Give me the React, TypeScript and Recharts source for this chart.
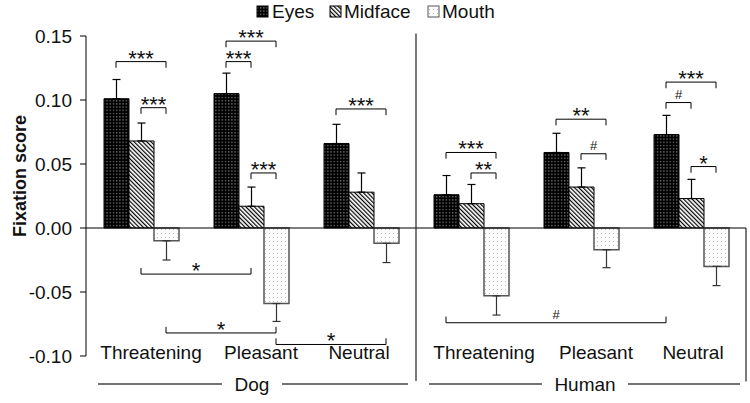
import React from 'react';
import { BarChart, Bar, XAxis, YAxis, ErrorBar, ReferenceLine } from 'recharts';

// ---------- data ----------
const categories = ['Threatening', 'Pleasant', 'Neutral', 'Threatening', 'Pleasant', 'Neutral'];
const groupNames = ['Dog', 'Human'];
const seriesNames = ['Eyes', 'Midface', 'Mouth'];
const eyes = [0.101, 0.105, 0.066, 0.026, 0.059, 0.073];
const eyesErr = [0.015, 0.016, 0.015, 0.015, 0.015, 0.015];
const midface = [0.068, 0.017, 0.028, 0.019, 0.032, 0.023];
const midfaceErr = [0.014, 0.015, 0.015, 0.015, 0.015, 0.015];
const mouth = [-0.010, -0.059, -0.012, -0.053, -0.017, -0.030];
const mouthErr = [0.015, 0.014, 0.015, 0.015, 0.014, 0.015];
const yTicks = [-0.1, -0.05, 0, 0.05, 0.1, 0.15];

// significance brackets: endpoints as [category index, series index], height in data units
const brackets = [
  { from: [0, 0], to: [0, 2], y: 0.130, label: '***' },
  { from: [0, 1], to: [0, 2], y: 0.094, label: '***' },
  { from: [1, 0], to: [1, 2], y: 0.146, label: '***' },
  { from: [1, 0], to: [1, 1], y: 0.130, label: '***' },
  { from: [1, 1], to: [1, 2], y: 0.043, label: '***' },
  { from: [2, 0], to: [2, 2], y: 0.093, label: '***' },
  { from: [3, 0], to: [3, 2], y: 0.059, label: '***' },
  { from: [3, 1], to: [3, 2], y: 0.043, label: '**' },
  { from: [4, 0], to: [4, 2], y: 0.085, label: '**' },
  { from: [4, 1], to: [4, 2], y: 0.058, label: '#' },
  { from: [5, 0], to: [5, 2], y: 0.114, label: '***' },
  { from: [5, 0], to: [5, 1], y: 0.098, label: '#' },
  { from: [5, 1], to: [5, 2], y: 0.048, label: '*' },
  { from: [0, 1], to: [1, 1], y: -0.036, label: '*' },
  { from: [0, 2], to: [1, 2], y: -0.082, label: '*' },
  { from: [1, 2], to: [2, 2], y: -0.091, label: '*' },
  { from: [3, 0], to: [5, 0], y: -0.074, label: '#' },
];

const data = categories.map((c, i) => ({
  key: String(i),
  pos: i + 0.5,
  name: c,
  eyes: eyes[i],
  eyesErr: [0, eyesErr[i]],
  midface: midface[i],
  midfaceErr: [0, midfaceErr[i]],
  mouth: mouth[i],
  mouthErr: [mouthErr[i], 0],
}));

// ---------- layout ----------
const FONT = '"Liberation Sans", Arial, sans-serif';
const W = 750;
const H = 403;
const MARGIN = { top: 36, right: 4, bottom: 0, left: 0 };
const Y_AXIS_W = 86;
const X_AXIS_H = 47;
const PLOT_W = W - MARGIN.left - MARGIN.right - Y_AXIS_W;
const BAR_SIZE = 25;
const BAR_UNIT = BAR_SIZE / (PLOT_W / categories.length);
const LEG = 0.0048;
const LABEL_NUDGE = [10, 10, -2, 13, 15, 2];
const TEXT = '#111';

const xOf = (p: number[]) => p[0] + 0.5 + (p[1] - 1) * BAR_UNIT;

function CatTick(props: any) {
  const { x, y, payload } = props;
  const i = Number(payload.value);
  return (
    <text x={x + LABEL_NUDGE[i]} y={y + 3} textAnchor="middle" fontSize={19} fontFamily={FONT} fill={TEXT}>
      {categories[i]}
    </text>
  );
}

function bracketLines() {
  const out: any[] = [];
  brackets.forEach((b, k) => {
    const x1 = xOf(b.from);
    const x2 = xOf(b.to);
    const legY = b.y < 0 ? b.y + LEG : b.y - LEG;
    const isHash = b.label === '#';
    out.push(
      <ReferenceLine
        key={`h${k}`}
        xAxisId="n"
        segment={[{ x: x1, y: b.y }, { x: x2, y: b.y }]}
        stroke="#000"
        strokeWidth={1}
        ifOverflow="visible"
        label={{
          value: b.label,
          position: 'top',
          offset: isHash ? 4 : -4,
          fontSize: isHash ? 13 : 22,
          fill: TEXT,
          fontFamily: FONT,
        }}
      />,
      <ReferenceLine key={`a${k}`} xAxisId="n" segment={[{ x: x1, y: b.y }, { x: x1, y: legY }]} stroke="#000" strokeWidth={1} ifOverflow="visible" />,
      <ReferenceLine key={`b${k}`} xAxisId="n" segment={[{ x: x2, y: b.y }, { x: x2, y: legY }]} stroke="#000" strokeWidth={1} ifOverflow="visible" />
    );
  });
  return out;
}

const GROUP_LAYOUT = [
  { x1: 98, x2: 408, cx: 252, half: 18 },
  { x1: 429, x2: 740, cx: 585, half: 31 },
];
const GROUP_Y = 384;

const LEGEND_LAYOUT = [
  { ix: 257, tx: 272 },
  { ix: 330, tx: 344 },
  { ix: 428, tx: 442 },
];
const LEGEND_FILLS = ['url(#pEyes)', 'url(#pMid)', 'url(#pMouth)'];
const LEGEND_STROKES = ['#000', '#000', '#555'];

function Patterns() {
  return (
    <defs>
      <pattern id="pEyes" width="3.2" height="3.2" patternUnits="userSpaceOnUse">
        <rect width="3.2" height="3.2" fill="#000" />
        <rect x="1" y="1" width="1" height="1" fill="#c8c8c8" />
      </pattern>
      <pattern id="pMid" width="3" height="3" patternUnits="userSpaceOnUse" patternTransform="rotate(-45)">
        <rect width="3" height="3" fill="#fff" />
        <rect x="0" y="0" width="1.2" height="3" fill="#000" />
      </pattern>
      <pattern id="pMouth" width="4" height="4" patternUnits="userSpaceOnUse">
        <rect width="4" height="4" fill="#fcfcfc" />
        <rect x="1" y="1" width="1" height="1" fill="#bdbdbd" />
      </pattern>
    </defs>
  );
}

export default function App() {
  return (
    <div style={{ position: 'absolute', left: 0, top: 0, width: W, height: H, background: '#fff' }}>
      <svg width={0} height={0} style={{ position: 'absolute' }}>
        <Patterns />
      </svg>
      <BarChart width={W} height={H} data={data} margin={MARGIN} barGap={0} barSize={BAR_SIZE}>
        <XAxis
          dataKey="key"
          axisLine={false}
          tickLine={false}
          tickSize={0}
          tickMargin={0}
          height={X_AXIS_H}
          interval={0}
          tick={<CatTick />}
        />
        <XAxis
          xAxisId="n"
          dataKey="pos"
          type="number"
          domain={[0, categories.length]}
          padding={{ left: 0, right: 0 }}
          hide
          allowDataOverflow
        />
        <YAxis
          domain={[yTicks[0], yTicks[yTicks.length - 1]]}
          ticks={yTicks}
          allowDataOverflow
          width={Y_AXIS_W}
          tickSize={6}
          tickMargin={8}
          tickFormatter={(v: number) => v.toFixed(2)}
          axisLine={{ stroke: '#000' }}
          tickLine={{ stroke: '#000' }}
          tick={{ fill: TEXT, fontSize: 19, fontFamily: FONT }}
        />
        <Bar dataKey="eyes" name={seriesNames[0]} fill="url(#pEyes)" stroke="#000" strokeWidth={1} isAnimationActive={false}>
          <ErrorBar dataKey="eyesErr" width={4} stroke="#000" strokeWidth={1.2} />
        </Bar>
        <Bar dataKey="midface" name={seriesNames[1]} fill="url(#pMid)" stroke="#000" strokeWidth={1} isAnimationActive={false}>
          <ErrorBar dataKey="midfaceErr" width={4} stroke="#000" strokeWidth={1.2} />
        </Bar>
        <Bar dataKey="mouth" name={seriesNames[2]} fill="url(#pMouth)" stroke="#555" strokeWidth={1.5} isAnimationActive={false}>
          <ErrorBar dataKey="mouthErr" width={4} stroke="#333" strokeWidth={1.2} />
        </Bar>
        <ReferenceLine y={0} stroke="#000" strokeWidth={1.2} />
        <ReferenceLine xAxisId="n" segment={[{ x: 3, y: 0.152 }, { x: 3, y: -0.1195 }]} stroke="#222" strokeWidth={1.2} ifOverflow="visible" />
        <ReferenceLine xAxisId="n" segment={[{ x: categories.length, y: 0 }, { x: categories.length, y: -0.12 }]} stroke="#222" strokeWidth={1.2} ifOverflow="visible" />
        {bracketLines()}
      </BarChart>
      <svg width={W} height={H} style={{ position: 'absolute', left: 0, top: 0, pointerEvents: 'none' }}>
        <text
          transform="translate(20,176) rotate(-90)"
          textAnchor="middle"
          dominantBaseline="central"
          fontSize={18}
          fontWeight="bold"
          fontFamily={FONT}
          fill={TEXT}
        >
          Fixation score
        </text>
        {seriesNames.map((s, i) => (
          <g key={s}>
            <rect x={LEGEND_LAYOUT[i].ix} y={6} width={11} height={11} fill={LEGEND_FILLS[i]} stroke={LEGEND_STROKES[i]} strokeWidth={1} />
            <text x={LEGEND_LAYOUT[i].tx} y={17.5} fontSize={19} fontFamily={FONT} fill={TEXT}>
              {s}
            </text>
          </g>
        ))}
        {groupNames.map((g, i) => {
          const L = GROUP_LAYOUT[i];
          return (
            <g key={g}>
              <line x1={L.x1} x2={L.cx - L.half - 12} y1={GROUP_Y} y2={GROUP_Y} stroke="#444" strokeWidth={1.5} />
              <line x1={L.cx + L.half + 12} x2={L.x2} y1={GROUP_Y} y2={GROUP_Y} stroke="#444" strokeWidth={1.5} />
              <text x={L.cx} y={GROUP_Y + 7} textAnchor="middle" fontSize={19} fontFamily={FONT} fill={TEXT}>
                {g}
              </text>
            </g>
          );
        })}
      </svg>
    </div>
  );
}
